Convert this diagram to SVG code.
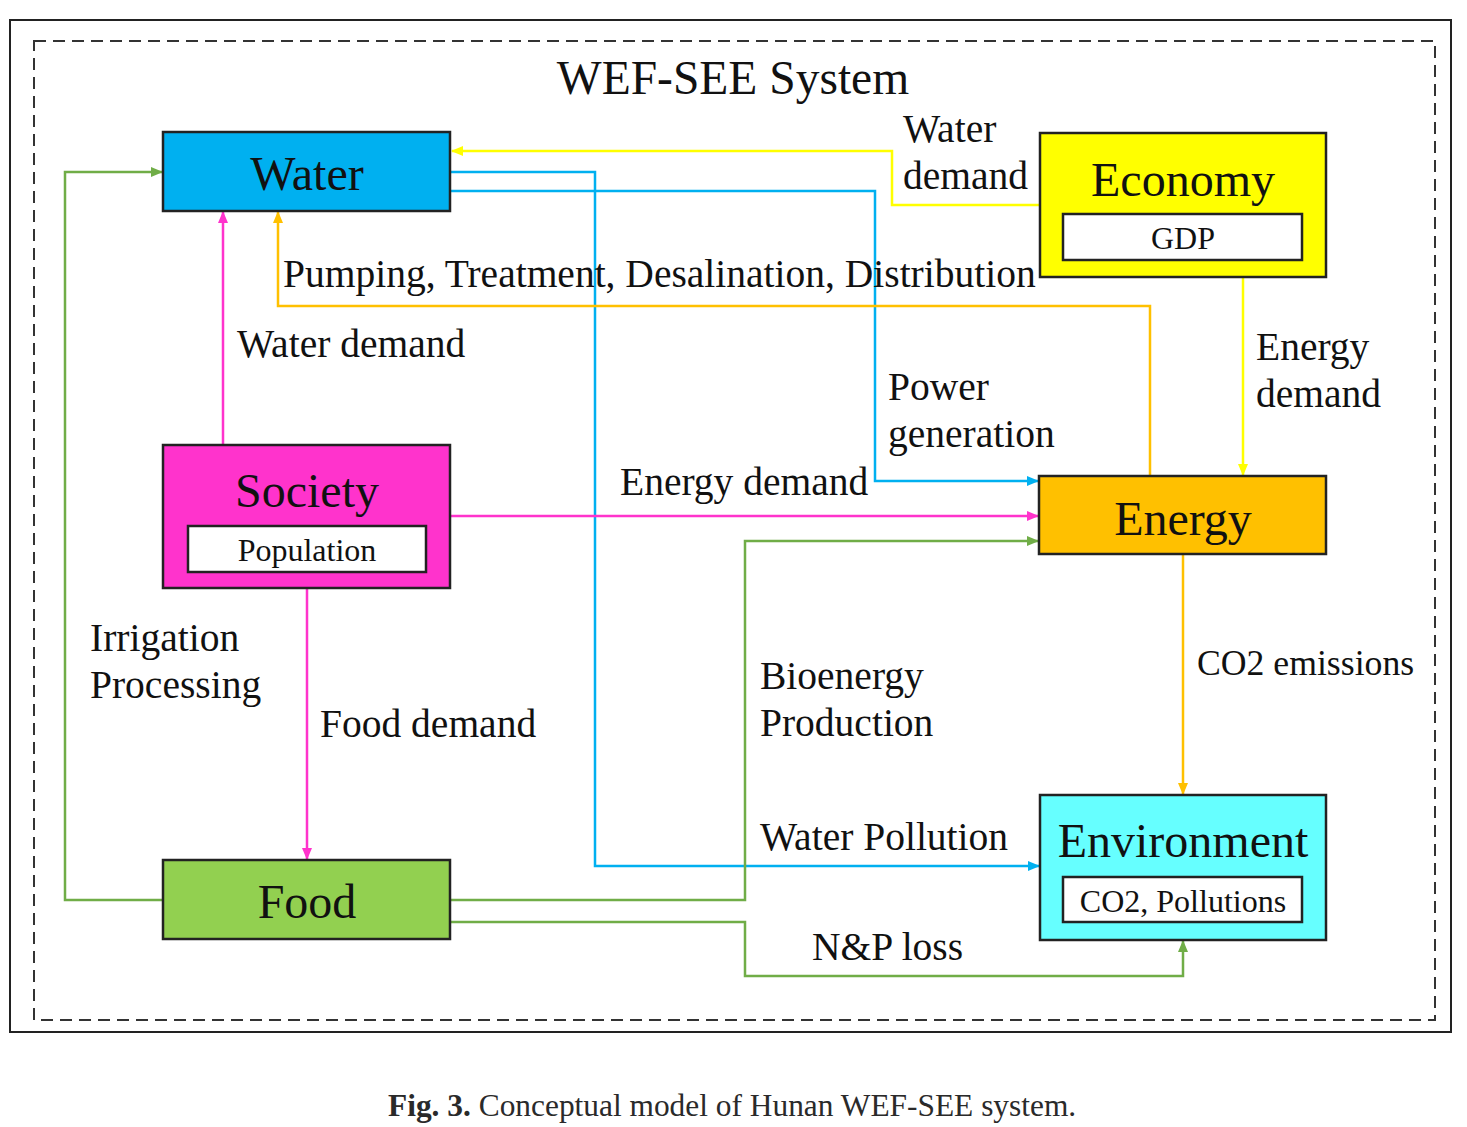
<svg xmlns="http://www.w3.org/2000/svg" width="1467" height="1127" viewBox="0 0 1467 1127">
<style>
text{font-family:"Liberation Serif","Times New Roman",serif;fill:#111}
.box{stroke:#222;stroke-width:2.5}
.inner{fill:#fff;stroke:#222;stroke-width:2.5}
.t{font-size:48px;text-anchor:middle}
.s{font-size:32px;text-anchor:middle}
.l{font-size:39.5px}
.c{fill:none;stroke-width:2.5}
</style>
<defs>
<marker id="aB" markerUnits="userSpaceOnUse" markerWidth="12" markerHeight="10" refX="11" refY="5" orient="auto"><path d="M0,0 L12,5 L0,10 Z" fill="#00B0F0"/></marker>
<marker id="aY" markerUnits="userSpaceOnUse" markerWidth="12" markerHeight="10" refX="11" refY="5" orient="auto"><path d="M0,0 L12,5 L0,10 Z" fill="#FFFF00"/></marker>
<marker id="aO" markerUnits="userSpaceOnUse" markerWidth="12" markerHeight="10" refX="11" refY="5" orient="auto"><path d="M0,0 L12,5 L0,10 Z" fill="#FFC000"/></marker>
<marker id="aP" markerUnits="userSpaceOnUse" markerWidth="12" markerHeight="10" refX="11" refY="5" orient="auto"><path d="M0,0 L12,5 L0,10 Z" fill="#FF33CC"/></marker>
<marker id="aG" markerUnits="userSpaceOnUse" markerWidth="12" markerHeight="10" refX="11" refY="5" orient="auto"><path d="M0,0 L12,5 L0,10 Z" fill="#70AD47"/></marker>
</defs>
<rect width="1467" height="1127" fill="#fff"/>
<rect x="10" y="20" width="1441" height="1012" fill="none" stroke="#222" stroke-width="2"/>
<rect x="34" y="41" width="1401" height="979" fill="none" stroke="#333" stroke-width="2" stroke-dasharray="12 7"/>
<text x="733" y="94" font-size="47.5" text-anchor="middle">WEF-SEE System</text>

<g id="connectors">
<path class="c" stroke="#FFFF00" d="M1040,205 H892 V151 H452" marker-end="url(#aY)"/>
<path class="c" stroke="#00B0F0" d="M450,172 H595 V866 H1039" marker-end="url(#aB)"/>
<path class="c" stroke="#00B0F0" d="M450,191 H875 V481 H1038" marker-end="url(#aB)"/>
<path class="c" stroke="#FFC000" d="M1150,476 V306 H278 V212" marker-end="url(#aO)"/>
<path class="c" stroke="#FF33CC" d="M223,445 V212" marker-end="url(#aP)"/>
<path class="c" stroke="#FF33CC" d="M450,516 H1038" marker-end="url(#aP)"/>
<path class="c" stroke="#FF33CC" d="M307,588 V859" marker-end="url(#aP)"/>
<path class="c" stroke="#70AD47" d="M163,900 H65 V172 H162" marker-end="url(#aG)"/>
<path class="c" stroke="#70AD47" d="M450,900 H745 V541 H1038" marker-end="url(#aG)"/>
<path class="c" stroke="#70AD47" d="M450,922 H745 V976 H1183 V941" marker-end="url(#aG)"/>
<path class="c" stroke="#FFFF00" d="M1243,277 V475" marker-end="url(#aY)"/>
<path class="c" stroke="#FFC000" d="M1183,554 V794" marker-end="url(#aO)"/>
</g>

<g id="water">
<rect class="box" x="163" y="132" width="287" height="79" fill="#00B0F0"/>
<text class="t" x="307" y="190">Water</text>
</g>
<g id="economy">
<rect class="box" x="1040" y="133" width="286" height="144" fill="#FFFF00"/>
<text class="t" x="1183" y="196">Economy</text>
<rect class="inner" x="1063" y="214" width="239" height="46"/>
<text class="s" x="1183" y="249">GDP</text>
</g>
<g id="society">
<rect class="box" x="163" y="445" width="287" height="143" fill="#FF33CC"/>
<text class="t" x="307" y="507">Society</text>
<rect class="inner" x="188" y="526" width="238" height="46"/>
<text class="s" x="307" y="561">Population</text>
</g>
<g id="energy">
<rect class="box" x="1039" y="476" width="287" height="78" fill="#FFC000"/>
<text class="t" x="1183" y="535">Energy</text>
</g>
<g id="environment">
<rect class="box" x="1040" y="795" width="286" height="145" fill="#66FFFF"/>
<text class="t" x="1183" y="857">Environment</text>
<rect class="inner" x="1063" y="877" width="239" height="45"/>
<text class="s" x="1183" y="912">CO2, Pollutions</text>
</g>
<g id="food">
<rect class="box" x="163" y="860" width="287" height="79" fill="#92D050"/>
<text class="t" x="307" y="918">Food</text>
</g>

<g id="labels">
<text class="l" x="903" y="142">Water</text>
<text class="l" x="903" y="189">demand</text>
<text class="l" x="283" y="287">Pumping, Treatment, Desalination, Distribution</text>
<text class="l" x="237" y="357">Water demand</text>
<text class="l" x="888" y="400">Power</text>
<text class="l" x="888" y="447">generation</text>
<text class="l" x="1256" y="360">Energy</text>
<text class="l" x="1256" y="407">demand</text>
<text class="l" x="620" y="495">Energy demand</text>
<text class="l" x="90" y="651">Irrigation</text>
<text class="l" x="90" y="698">Processing</text>
<text class="l" x="320" y="737">Food demand</text>
<text class="l" x="760" y="689">Bioenergy</text>
<text class="l" x="760" y="736">Production</text>
<text x="1197" y="675" font-size="35.7">CO2 emissions</text>
<text class="l" x="760" y="850">Water Pollution</text>
<text class="l" x="812" y="960">N&amp;P loss</text>
</g>
<text x="388" y="1116" font-size="31.4" style="fill:#2a2a2a"><tspan font-weight="bold">Fig. 3.</tspan> Conceptual model of Hunan WEF-SEE system.</text>
</svg>
